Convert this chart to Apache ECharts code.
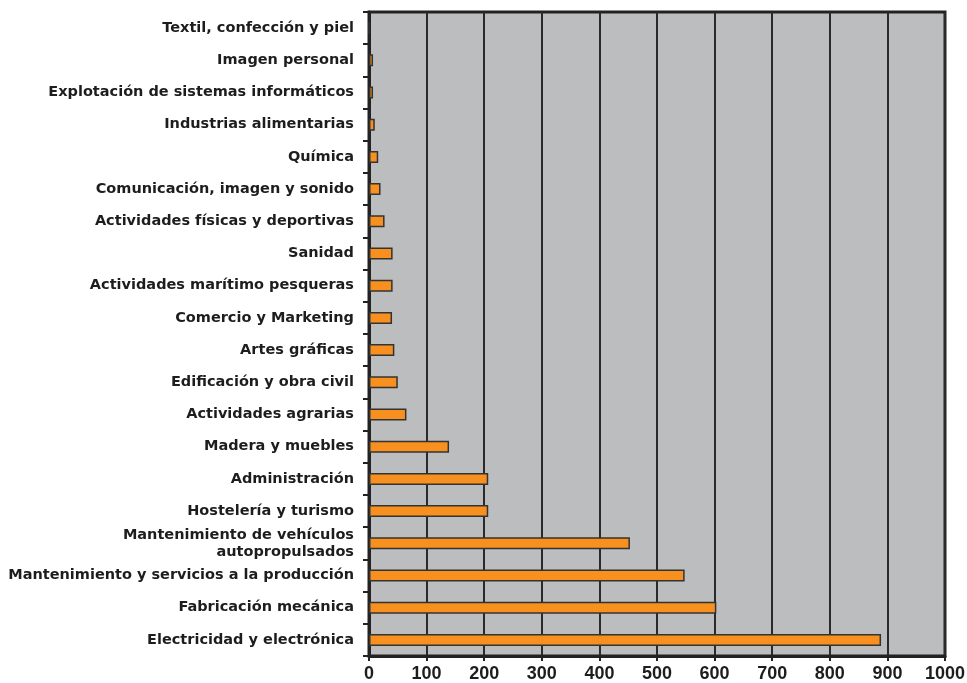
<!DOCTYPE html>
<html>
<head>
<meta charset="utf-8">
<script src="https://cdn.jsdelivr.net/npm/echarts@6/dist/echarts.min.js"></script>
<style>
  html, body { margin: 0; padding: 0; background: #ffffff; }
  #chart { width: 967px; height: 683px; }
</style>
</head>
<body>
<div id="chart"></div>
<script>
// Families, listed from top to bottom of the chart
const familias = [
  'Textil, confección y piel',
  'Imagen personal',
  'Explotación de sistemas informáticos',
  'Industrias alimentarias',
  'Química',
  'Comunicación, imagen y sonido',
  'Actividades físicas y deportivas',
  'Sanidad',
  'Actividades marítimo pesqueras',
  'Comercio y Marketing',
  'Artes gráficas',
  'Edificación y obra civil',
  'Actividades agrarias',
  'Madera y muebles',
  'Administración',
  'Hostelería y turismo',
  'Mantenimiento de vehículos\nautopropulsados',
  'Mantenimiento y servicios a la producción',
  'Fabricación mecánica',
  'Electricidad y electrónica'
];

// Value for each family, same order
const valores = [0, 7, 7, 10, 16, 20, 27, 41, 41, 40, 44, 50, 65, 139, 207, 207, 453, 548, 603, 889];

// Horizontal axis scale
const ejeMin = 0;
const ejeMax = 1000;
const ejeIntervalo = 100;

const textColor = '#1f1c1d';
const labelFont = '"DejaVu Sans", Verdana, sans-serif';
const numberFont = '"Liberation Sans", Arial, Helvetica, sans-serif';

const chart = echarts.init(document.getElementById('chart'), null, { renderer: 'canvas' });

chart.setOption({
  animation: false,
  backgroundColor: '#ffffff',
  grid: {
    left: 369,
    right: 22,
    top: 12,
    bottom: 27,
    containLabel: false,
    outerBoundsMode: 'none',
    show: true,
    backgroundColor: '#bcbdbf',
    borderColor: '#222222',
    borderWidth: 3
  },
  xAxis: {
    type: 'value',
    min: ejeMin,
    max: ejeMax,
    interval: ejeIntervalo,
    axisLine: { show: true, lineStyle: { color: '#222222', width: 3 } },
    axisTick: { show: true, length: 5, lineStyle: { color: '#222222', width: 2 } },
    splitLine: { show: true, lineStyle: { color: '#2a2a2a', width: 2 } },
    axisLabel: {
      color: textColor,
      fontFamily: numberFont,
      fontWeight: 'bold',
      fontSize: 18,
      margin: 9,
      formatter: function (v) { return String(v); }
    }
  },
  yAxis: {
    type: 'category',
    data: familias,
    inverse: true,
    axisLine: { show: true, lineStyle: { color: '#222222', width: 3 } },
    axisTick: { show: true, length: 6, alignWithLabel: false, lineStyle: { color: '#222222', width: 2 } },
    splitLine: { show: false },
    axisLabel: {
      color: textColor,
      fontFamily: labelFont,
      fontWeight: 'bold',
      fontSize: 14.5,
      lineHeight: 17,
      margin: 15,
      align: 'right',
      interval: 0
    }
  },
  series: [{
    type: 'bar',
    data: valores,
    barWidth: 12,
    itemStyle: {
      color: '#f7901e',
      borderColor: '#333333',
      borderWidth: 1.5
    }
  }]
});
</script>
</body>
</html>
